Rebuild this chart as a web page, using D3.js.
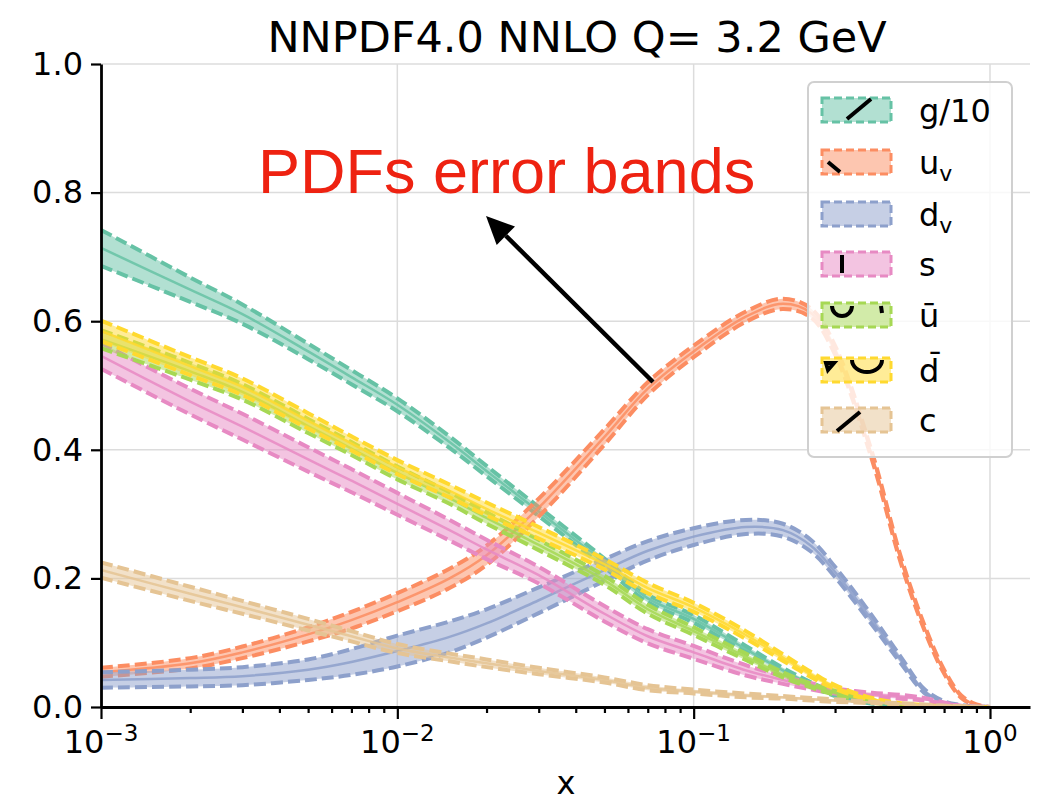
<!DOCTYPE html>
<html>
<head>
<meta charset="utf-8">
<script src="https://cdn.jsdelivr.net/npm/d3@7"></script>
<style>
body { margin: 0; background: #fff; }
text { font-family: "DejaVu Sans", sans-serif; }
</style>
</head>
<body>
<script>
// x grid shared by all PDFs
var xs = [0.001, 0.002, 0.003, 0.005, 0.007, 0.01, 0.015, 0.02, 0.03, 0.05, 0.07, 0.1,
          0.15, 0.2, 0.25, 0.3, 0.4, 0.5, 0.6, 0.7, 0.8, 0.9, 1.0];

// central values and half widths of the error bands
var gluon  = [0.714, 0.649, 0.611, 0.553, 0.513, 0.47, 0.412, 0.367, 0.304, 0.224, 0.169, 0.137,
              0.09, 0.057, 0.035, 0.02, 0.007, 0.003, 0.0015, 0.0008, 0.0004, 0.0001, 0];
var gluonErr = [0.028, 0.019, 0.015, 0.012, 0.011, 0.01, 0.009, 0.008, 0.007, 0.007, 0.006, 0.006,
                0.005, 0.004, 0.003, 0.003, 0.002, 0.001, 0.001, 0, 0, 0, 0];
var uval   = [0.054, 0.068, 0.085, 0.113, 0.135, 0.163, 0.2, 0.236, 0.31, 0.42, 0.495, 0.553,
              0.607, 0.627, 0.612, 0.555, 0.39, 0.229, 0.124, 0.055, 0.016, 0.003, 0];
var uvalErr = [0.007, 0.008, 0.009, 0.011, 0.013, 0.014, 0.015, 0.015, 0.014, 0.012, 0.01, 0.009,
               0.008, 0.008, 0.007, 0.007, 0.006, 0.005, 0.004, 0.003, 0.002, 0.001, 0];
var dval   = [0.042, 0.045, 0.048, 0.058, 0.07, 0.087, 0.109, 0.13, 0.166, 0.213, 0.243, 0.265,
              0.28, 0.275, 0.25, 0.21, 0.135, 0.073, 0.025, 0.007, 0.002, 0.0005, 0];
var dvalErr = [0.012, 0.013, 0.014, 0.016, 0.02, 0.024, 0.024, 0.022, 0.02, 0.017, 0.015, 0.013,
               0.011, 0.01, 0.009, 0.008, 0.007, 0.005, 0.003, 0.002, 0.001, 0, 0];
var strange = [0.546, 0.475, 0.436, 0.385, 0.352, 0.316, 0.275, 0.245, 0.205, 0.145, 0.11, 0.085,
               0.057, 0.042, 0.032, 0.025, 0.019, 0.016, 0.012, 0.006, 0.002, 0.0005, 0];
var strangeErr = [0.02, 0.02, 0.02, 0.019, 0.018, 0.017, 0.016, 0.015, 0.013, 0.012, 0.011, 0.01,
                  0.008, 0.006, 0.005, 0.004, 0.003, 0.003, 0.002, 0.001, 0, 0, 0];
var ubar   = [0.572, 0.522, 0.49, 0.437, 0.402, 0.364, 0.325, 0.294, 0.252, 0.197, 0.152, 0.118,
              0.078, 0.05, 0.033, 0.022, 0.009, 0.003, 0.001, 0.0005, 0.0002, 0.0001, 0];
var ubarErr = [0.014, 0.013, 0.012, 0.011, 0.01, 0.01, 0.009, 0.009, 0.008, 0.007, 0.007, 0.006,
               0.005, 0.004, 0.003, 0.003, 0.002, 0.001, 0.001, 0, 0, 0, 0];
var dbar   = [0.585, 0.53, 0.498, 0.445, 0.41, 0.373, 0.336, 0.308, 0.271, 0.222, 0.185, 0.155,
              0.112, 0.077, 0.05, 0.031, 0.012, 0.005, 0.002, 0.001, 0.0003, 0.0001, 0];
var dbarErr = [0.016, 0.014, 0.013, 0.012, 0.011, 0.011, 0.01, 0.01, 0.009, 0.008, 0.008, 0.007,
               0.006, 0.005, 0.004, 0.003, 0.002, 0.001, 0.001, 0, 0, 0, 0];
var charm  = [0.213, 0.176, 0.155, 0.128, 0.11, 0.091, 0.077, 0.068, 0.056, 0.042, 0.03, 0.024,
              0.018, 0.015, 0.012, 0.01, 0.007, 0.005, 0.003, 0.002, 0.001, 0.0003, 0];
var charmErr = [0.012, 0.011, 0.01, 0.009, 0.008, 0.007, 0.006, 0.006, 0.005, 0.004, 0.004, 0.003,
                0.003, 0.002, 0.002, 0.002, 0.001, 0.001, 0.001, 0, 0, 0, 0];

var labels = [["g/10", ""], ["u", "v"], ["d", "v"], ["s", ""], ["\u016B", ""], ["d\u0304", ""], ["c", ""]];
var centrals = [gluon, uval, dval, strange, ubar, dbar, charm];
var errors = [gluonErr, uvalErr, dvalErr, strangeErr, ubarErr, dbarErr, charmErr];
var colors = ["#66c2a5", "#fc8d62", "#8da0cb", "#e78ac3", "#a6d854", "#ffd92f", "#e5c494"];

var yTicks = [0, 0.2, 0.4, 0.6, 0.8, 1.0];
var xTicks = [1e-3, 1e-2, 1e-1, 1];
var xTickExp = ["\u22123", "\u22122", "\u22121", "0"];

var svg = d3.select("body").append("svg").attr("width", 1044).attr("height", 801);

var x = d3.scaleLog().domain([1e-3, 1.3646]).range([101, 1030]);
var y = d3.scaleLinear().domain([0, 1]).range([707, 64]);

svg.append("clipPath").attr("id", "clip").append("rect")
    .attr("x", 101).attr("y", 64).attr("width", 929).attr("height", 643);

// grid
svg.append("g").selectAll("line").data(yTicks.slice(1)).enter().append("line")
    .attr("x1", 101).attr("x2", 1030)
    .attr("y1", d => y(d)).attr("y2", d => y(d))
    .attr("stroke", "#dcdcdc").attr("stroke-width", 1.5);
svg.append("g").selectAll("line").data(xTicks.slice(1)).enter().append("line")
    .attr("x1", d => x(d)).attr("x2", d => x(d))
    .attr("y1", 64).attr("y2", 707)
    .attr("stroke", "#dcdcdc").attr("stroke-width", 1.5);

// bands
var plot = svg.append("g").attr("clip-path", "url(#clip)");
var curve = d3.curveCatmullRom.alpha(0.5);
centrals.forEach(function(c, i) {
    var pts = xs.map((xv, j) => ({x: xv, c: c[j], lo: Math.max(0, c[j] - errors[i][j]), hi: c[j] + errors[i][j]}));
    var area = d3.area().curve(curve)
        .x(d => x(d.x)).y0(d => y(d.lo)).y1(d => y(d.hi));
    var line = key => d3.line().curve(curve).x(d => x(d.x)).y(d => y(d[key]));
    var g = plot.append("g");
    g.append("path").attr("d", area(pts)).attr("fill", colors[i]).attr("fill-opacity", 0.5);
    g.append("path").attr("d", line("c")(pts)).attr("fill", "none")
        .attr("stroke", colors[i]).attr("stroke-width", 2.5).attr("stroke-opacity", 0.85);
    ["lo", "hi"].forEach(function(k) {
        g.append("path").attr("d", line(k)(pts)).attr("fill", "none")
            .attr("stroke", colors[i]).attr("stroke-width", 4)
            .attr("stroke-dasharray", "12,5");
    });
});

// axes
var yAxis = svg.append("g").attr("transform", "translate(101,0)")
    .call(d3.axisLeft(y).tickValues(yTicks).tickFormat(d3.format(".1f")).tickSize(10).tickSizeOuter(0).tickPadding(8));
yAxis.selectAll("text").attr("font-size", 32).attr("font-family", null).attr("fill", "#000");

var minors = [];
[1e-3, 1e-2, 1e-1].forEach(function(b) { for (var k = 2; k <= 9; k++) minors.push(b * k); });
svg.append("g").attr("transform", "translate(0,707)")
    .call(d3.axisBottom(x).tickValues(minors).tickFormat("").tickSize(6))
    .call(g => g.select(".domain").remove());
svg.append("g").attr("transform", "translate(0,707)")
    .call(d3.axisBottom(x).tickValues(xTicks).tickFormat("").tickSize(12).tickSizeOuter(0));

svg.selectAll(".domain").attr("stroke", "#000").attr("stroke-width", 2.8);
svg.selectAll(".tick line").attr("stroke", "#000").attr("stroke-width", 2.2);

var xl = svg.append("g").selectAll("text").data(xTicks).enter().append("text")
    .attr("x", d => x(d)).attr("y", 753).attr("text-anchor", "middle").attr("font-size", 32);
xl.append("tspan").text("10");
xl.append("tspan").text((d, i) => xTickExp[i]).attr("font-size", 23).attr("dy", -12);

// title and axis label
svg.append("text").attr("x", 577).attr("y", 52).attr("text-anchor", "middle")
    .attr("font-size", 43).text("NNPDF4.0 NNLO Q= 3.2 GeV");
svg.append("text").attr("x", 566).attr("y", 794).attr("text-anchor", "middle")
    .attr("font-size", 32).text("x");

// legend
var leg = svg.append("g");
leg.append("rect").attr("x", 808).attr("y", 82).attr("width", 204).attr("height", 375)
    .attr("rx", 6).attr("fill", "#fff").attr("fill-opacity", 0.8)
    .attr("stroke", "#d0d0d0").attr("stroke-width", 2);
var rowY = [110, 162, 214, 264, 315, 370, 420];
labels.forEach(function(lab, i) {
    var r = leg.append("g").attr("transform", "translate(0," + rowY[i] + ")");
    r.append("rect").attr("x", 822).attr("y", -12).attr("width", 69).attr("height", 24)
        .attr("fill", colors[i]).attr("fill-opacity", 0.5)
        .attr("stroke", colors[i]).attr("stroke-width", 3).attr("stroke-dasharray", "8,4");
    var t = r.append("text").attr("x", 919).attr("y", 12).attr("font-size", 32).text(lab[0]);
    if (lab[1]) t.append("tspan").attr("font-size", 22).attr("dy", 7).text(lab[1]);
});
// hatch remnants seen in the legend patches
var marks = [
    "M847,119 L871,99",
    "M828,162 L840,172",
    "M842,255 L842,273",
    "M832,306 A10,10 0 0 0 852,306",
    "M881,306 L882,313",
    "M826,363 L834,363 L828,370 Z",
    "M852,360 A15,12 0 0 0 882,360",
    "M837,431 L860,412"
];
leg.selectAll("path.m").data(marks).enter().append("path").attr("class", "m")
    .attr("d", d => d).attr("fill", "none").attr("stroke", "#000").attr("stroke-width", 4);

// annotation
svg.append("text").attr("x", 258).attr("y", 193)
    .style("font-family", "'Liberation Sans', Arial, sans-serif").attr("font-size", 63)
    .attr("fill", "#ee2211").text("PDFs error bands");
var ax0 = 653, ay0 = 382, ax1 = 486, ay1 = 216;
var ang = Math.atan2(ay1 - ay0, ax1 - ax0), hl = 28, hw = 13;
var bx = ax1 - hl * Math.cos(ang), by = ay1 - hl * Math.sin(ang);
svg.append("line").attr("x1", ax0).attr("y1", ay0).attr("x2", bx).attr("y2", by)
    .attr("stroke", "#000").attr("stroke-width", 4.5);
svg.append("path").attr("fill", "#000").attr("d",
    "M" + ax1 + "," + ay1 +
    "L" + (bx + hw * Math.sin(ang)) + "," + (by - hw * Math.cos(ang)) +
    "L" + (bx - hw * Math.sin(ang)) + "," + (by + hw * Math.cos(ang)) + "Z");
</script>
</body>
</html>
